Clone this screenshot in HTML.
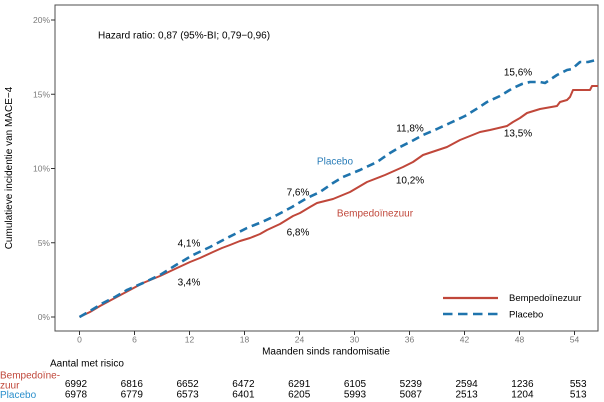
<!DOCTYPE html>
<html><head><meta charset="utf-8"><style>
html,body{margin:0;padding:0;background:#fff;}
svg{display:block;font-family:"Liberation Sans",Arial,sans-serif;}
</style></head><body>
<svg width="604" height="402" viewBox="0 0 604 402" xmlns="http://www.w3.org/2000/svg">
<rect x="0" y="0" width="604" height="402" fill="#fff"/>
<!-- panel -->
<rect x="55" y="5" width="543" height="326" fill="none" stroke="#4d4d4d" stroke-width="1"/>
<!-- y ticks -->
<g stroke="#333" stroke-width="1">
<line x1="51" y1="20" x2="55" y2="20"/>
<line x1="51" y1="94.25" x2="55" y2="94.25"/>
<line x1="51" y1="168.5" x2="55" y2="168.5"/>
<line x1="51" y1="242.75" x2="55" y2="242.75"/>
<line x1="51" y1="317" x2="55" y2="317"/>
</g>
<g font-size="8.5" fill="#7a7a7a" text-anchor="end">
<text x="50" y="23">20%</text>
<text x="50" y="97.3">15%</text>
<text x="50" y="171.5">10%</text>
<text x="50" y="245.8">5%</text>
<text x="50" y="320">0%</text>
</g>
<!-- x ticks -->
<g stroke="#333" stroke-width="1">
<line x1="79.5" y1="331" x2="79.5" y2="335"/>
<line x1="134.5" y1="331" x2="134.5" y2="335"/>
<line x1="189.5" y1="331" x2="189.5" y2="335"/>
<line x1="244.5" y1="331" x2="244.5" y2="335"/>
<line x1="299.5" y1="331" x2="299.5" y2="335"/>
<line x1="354.5" y1="331" x2="354.5" y2="335"/>
<line x1="409.5" y1="331" x2="409.5" y2="335"/>
<line x1="464.5" y1="331" x2="464.5" y2="335"/>
<line x1="519.5" y1="331" x2="519.5" y2="335"/>
<line x1="574.5" y1="331" x2="574.5" y2="335"/>
</g>
<g font-size="8.5" fill="#7a7a7a" text-anchor="middle">
<text x="79.5" y="342.5">0</text>
<text x="134.5" y="342.5">6</text>
<text x="189.5" y="342.5">12</text>
<text x="244.5" y="342.5">18</text>
<text x="299.5" y="342.5">24</text>
<text x="354.5" y="342.5">30</text>
<text x="409.5" y="342.5">36</text>
<text x="464.5" y="342.5">42</text>
<text x="519.5" y="342.5">48</text>
<text x="574.5" y="342.5">54</text>
</g>
<!-- axis titles -->
<text x="326" y="354.5" font-size="10" fill="#000" text-anchor="middle">Maanden sinds randomisatie</text>
<text transform="translate(12,168) rotate(-90)" font-size="10" fill="#000" text-anchor="middle">Cumulatieve incidentie van MACE−4</text>
<!-- hazard ratio -->
<text x="98" y="38.5" font-size="10" fill="#000">Hazard ratio: 0,87 (95%-BI; 0,79−0,96)</text>
<!-- curves -->
<polyline fill="none" stroke="#c0473a" stroke-width="2" stroke-linejoin="round" points="79.5,317 90,312 100,306 113,299 128,291 143,283 160,276 177,268 190,262 200,258 213,252 222,248 230,245 240,241 250,238 260,234 267,230 280,224 293,216 300,213 310,207 317,203 333,199 350,192 367,182 385,175 403,167 413,162 423,155 435,151 447,147 460,140 470,136 480,132 490,130 507,126 513,122 520,118 527,113 540,109 557,106 560,102 567,100 570,97 573,90 590,90 592,86 598,86"/>
<polyline fill="none" stroke="#1f74ad" stroke-width="2.6" stroke-dasharray="8,5" stroke-linejoin="round" points="79.5,317 90,311 103,303 115,297 127,290 143,283 160,275 176,265 193,255 210,247 227,238 247,228 262,222 277,215 292,207 307,198 320,192 333,183 343,177 360,170 377,162 390,153 400,147 412,141 423,135 437,129 450,123 465,116 478,108 487,102 500,96 513,88 522,84 530,82 540,82 545,83 557,75 567,70 572,69 580,62 588,62 596,60"/>
<!-- annotations -->
<g font-size="10" fill="#000" text-anchor="middle">
<text x="189" y="246.5">4,1%</text>
<text x="189" y="285.5">3,4%</text>
<text x="298" y="195.5">7,6%</text>
<text x="298" y="235.5">6,8%</text>
<text x="410" y="131.5">11,8%</text>
<text x="410" y="183.5">10,2%</text>
<text x="518" y="75.5">15,6%</text>
<text x="518" y="136.5">13,5%</text>
</g>
<text x="335" y="164.5" font-size="10" fill="#2a7db8" text-anchor="middle">Placebo</text>
<text x="375" y="216.5" font-size="10" fill="#c0473a" text-anchor="middle">Bempedoïnezuur</text>
<!-- legend -->
<line x1="443" y1="298" x2="498" y2="298" stroke="#c0473a" stroke-width="2.2"/>
<line x1="443" y1="314" x2="498" y2="314" stroke="#1f74ad" stroke-width="2.6" stroke-dasharray="9.5,5.5"/>
<text x="509" y="301" font-size="9.5" fill="#000">Bempedoïnezuur</text>
<text x="509" y="317.5" font-size="9.5" fill="#000">Placebo</text>
<!-- risk table -->
<text x="50" y="366.5" font-size="10" fill="#000">Aantal met risico</text>
<text x="0" y="378.5" font-size="10" fill="#c0473a">Bempedoïne-</text>
<text x="0" y="388.5" font-size="10" fill="#c0473a">zuur</text>
<text x="0" y="398" font-size="10" fill="#2a8fcc">Placebo</text>
<g font-size="10" fill="#000" text-anchor="middle">
<text x="76" y="387">6992</text>
<text x="131.8" y="387">6816</text>
<text x="187.6" y="387">6652</text>
<text x="243.4" y="387">6472</text>
<text x="299.2" y="387">6291</text>
<text x="355" y="387">6105</text>
<text x="410.8" y="387">5239</text>
<text x="466.6" y="387">2594</text>
<text x="522.4" y="387">1236</text>
<text x="578.2" y="387">553</text>
<text x="76" y="397.5">6978</text>
<text x="131.8" y="397.5">6779</text>
<text x="187.6" y="397.5">6573</text>
<text x="243.4" y="397.5">6401</text>
<text x="299.2" y="397.5">6205</text>
<text x="355" y="397.5">5993</text>
<text x="410.8" y="397.5">5087</text>
<text x="466.6" y="397.5">2513</text>
<text x="522.4" y="397.5">1204</text>
<text x="578.2" y="397.5">513</text>
</g>
</svg>
</body></html>
